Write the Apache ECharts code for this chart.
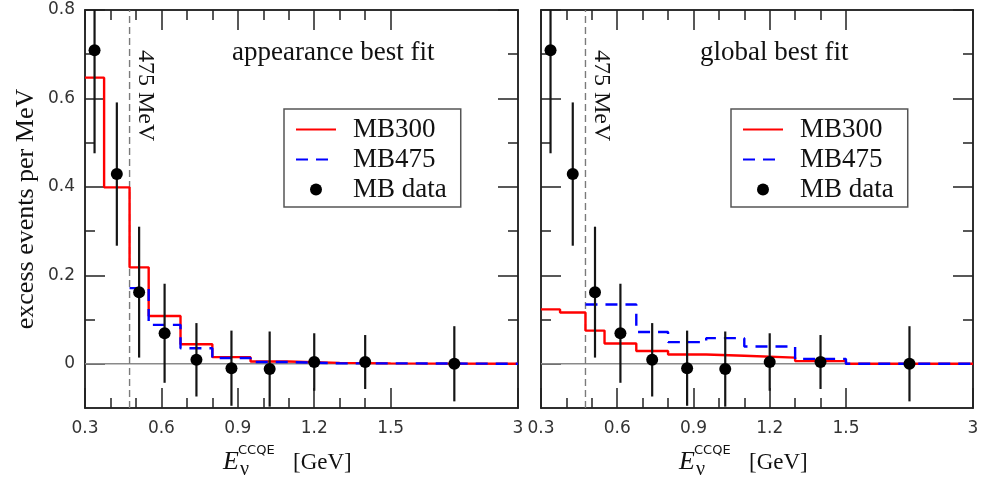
<!DOCTYPE html>
<html>
<head>
<meta charset="utf-8">
<script src="https://cdn.jsdelivr.net/npm/echarts@6/dist/echarts.min.js"></script>
<style>
  html, body { margin: 0; padding: 0; background: #fff; }
  #chart { width: 984px; height: 483px; }
</style>
</head>
<body>
<div id="chart"></div>
<script>
// Energy bins of the reconstructed neutrino energy (GeV)
const binEdges = [0.3, 0.375, 0.475, 0.55, 0.675, 0.8, 0.95, 1.1, 1.3, 1.5, 3.0];

// MiniBooNE excess: bin centres (GeV), values and errors (events per MeV)
const dataE = [0.3375, 0.425, 0.5125, 0.6125, 0.7375, 0.875, 1.025, 1.2, 1.4, 2.25];
const dataExcess = [0.709, 0.429, 0.162, 0.069, 0.009, -0.010, -0.012, 0.004, 0.004, 0.000];
const dataError = [0.233, 0.162, 0.148, 0.112, 0.083, 0.085, 0.085, 0.065, 0.061, 0.085];

// Predicted excess per bin, appearance best fit
const appMB300 = [0.647, 0.399, 0.218, 0.108, 0.044, 0.015, 0.005, 0.002, 0.001, 0.0];
const appMB475 = [null, null, 0.171, 0.088, 0.035, 0.013, 0.004, 0.001, 0.001, 0.0];

// Predicted excess per bin, global best fit
const globMB300 = [0.123, 0.116, 0.075, 0.046, 0.029, 0.021, 0.018, 0.014, 0.006, 0.0];
const globMB475 = [null, null, 0.134, 0.134, 0.072, 0.049, 0.058, 0.039, 0.011, 0.0];

const panelTitles = ['appearance best fit', 'global best fit'];
const seriesNames = ['MB300', 'MB475', 'MB data'];
const thresholdE = 0.475;
const thresholdLabel = '475 MeV';

// Tick positions
const majorTicksE = [0.3, 0.6, 0.9, 1.2, 1.5, 3.0];
const minorTicksE = [0.4, 0.5, 0.7, 0.8, 1.0, 1.1, 1.3, 1.4];
const majorTicksY = [0, 0.2, 0.4, 0.6, 0.8];
const minorTicksY = [0.1, 0.3, 0.5, 0.7];
const yMin = -0.1, yMax = 0.8;

// The energy axis is linear up to 1.5 GeV and compressed threefold above it
const BREAK_E = 1.5, SQUEEZE = 3;
const toAxis = e => (e <= BREAK_E ? e : BREAK_E + (e - BREAK_E) / SQUEEZE);
const fromAxis = v => (v <= BREAK_E ? v : BREAK_E + (v - BREAK_E) * SQUEEZE);
const xMin = toAxis(binEdges[0]), xMax = toAxis(binEdges[binEdges.length - 1]);

// Step outline of a binned prediction (null bins are not drawn)
function stepData(values) {
  const pts = [];
  let last = -1;
  values.forEach((v, i) => {
    if (v === null) return;
    pts.push([toAxis(binEdges[i]), v]);
    last = i;
  });
  pts.push([toAxis(binEdges[last + 1]), values[last]]);
  return pts;
}

const SERIF = '"Liberation Serif", "Times New Roman", serif';
const SANS = '"DejaVu Sans", sans-serif';
const INK = '#111';
const FRAME = '#222';

const grids = [
  { left: 85, top: 10, width: 433, height: 398 },
  { left: 541, top: 10, width: 432, height: 398 }
];

function tickAxis(kind, g, position, values, length, labels) {
  const isX = kind === 'x';
  const ax = {
    gridIndex: g,
    type: 'value',
    position: position,
    min: isX ? xMin : yMin,
    max: isX ? xMax : yMax,
    splitLine: { show: false },
    axisLine: { show: true, onZero: false, lineStyle: { color: FRAME, width: 1.5 } },
    axisTick: {
      show: true, inside: true, length: length,
      customValues: values,
      lineStyle: { color: FRAME, width: 1.5 }
    },
    axisLabel: { show: false }
  };
  if (labels) {
    ax.axisLabel = {
      show: true,
      customValues: values,
      margin: isX ? 12 : 10,
      fontFamily: SANS,
      fontSize: 17,
      color: '#333',
      formatter: isX
        ? v => { const e = Math.round(fromAxis(v) * 100) / 100; return e === 3 ? '3' : e.toFixed(1); }
        : v => (Math.abs(v) < 1e-9 ? '0' : v.toFixed(1))
    };
  }
  return ax;
}

const xAxes = [], yAxes = [];
grids.forEach((gr, g) => {
  xAxes.push(
    tickAxis('x', g, 'bottom', majorTicksE.map(toAxis), 20, true),
    tickAxis('x', g, 'bottom', minorTicksE.map(toAxis), 10, false),
    tickAxis('x', g, 'top', majorTicksE.map(toAxis), 20, false),
    tickAxis('x', g, 'top', minorTicksE.map(toAxis), 10, false)
  );
  yAxes.push(
    tickAxis('y', g, 'left', majorTicksY, 20, g === 0),
    tickAxis('y', g, 'left', minorTicksY, 10, false),
    tickAxis('y', g, 'right', majorTicksY, 20, false),
    tickAxis('y', g, 'right', minorTicksY, 10, false)
  );
});

const predictions = [
  [appMB300, appMB475],
  [globMB300, globMB475]
];

const series = [];
grids.forEach((gr, g) => {
  const ax = { xAxisIndex: 4 * g, yAxisIndex: 4 * g };
  series.push(
    Object.assign({
      name: 'zero', type: 'line', silent: true, symbol: 'none', z: 1,
      data: [[xMin, 0], [xMax, 0]],
      lineStyle: { color: '#8a8a8a', width: 1.6 }
    }, ax),
    Object.assign({
      name: 'threshold', type: 'line', silent: true, symbol: 'none', z: 1,
      data: [[toAxis(thresholdE), yMin], [toAxis(thresholdE), yMax]],
      lineStyle: { color: '#7a7a7a', width: 1.4, type: [7, 4] }
    }, ax),
    Object.assign({
      name: seriesNames[0], type: 'line', step: 'end', symbol: 'none', z: 3,
      data: stepData(predictions[g][0]),
      itemStyle: { color: '#ff0000' },
      lineStyle: { color: '#ff0000', width: 2.4 }
    }, ax),
    Object.assign({
      name: seriesNames[1], type: 'line', step: 'end', symbol: 'none', z: 4,
      data: stepData(predictions[g][1]),
      itemStyle: { color: '#0000ff' },
      lineStyle: { color: '#0000ff', width: 2.4, type: [12, 8] }
    }, ax),
    Object.assign({
      name: 'errors', type: 'custom', z: 5, silent: true,
      data: dataE.map((e, i) => [toAxis(e), dataExcess[i], dataError[i]]),
      encode: { x: 0, y: 1 },
      renderItem: (params, api) => {
        const x = api.value(0), y = api.value(1), err = api.value(2);
        const lo = api.coord([x, Math.max(y - err, yMin)]);
        const hi = api.coord([x, Math.min(y + err, yMax)]);
        return {
          type: 'line',
          shape: { x1: lo[0], y1: lo[1], x2: hi[0], y2: hi[1] },
          style: { stroke: '#151515', lineWidth: 2.2 }
        };
      }
    }, ax),
    Object.assign({
      name: seriesNames[2], type: 'scatter', z: 6, symbol: 'circle', symbolSize: 12,
      data: dataE.map((e, i) => [toAxis(e), dataExcess[i]]),
      itemStyle: { color: '#000', opacity: 1 }
    }, ax)
  );
});

const legendLefts = [284, 731];
const legends = legendLefts.map(left => ({
  left: left, top: 109, orient: 'vertical',
  selectedMode: false,
  data: [
    { name: seriesNames[0], itemStyle: { opacity: 0 } },
    { name: seriesNames[1], itemStyle: { opacity: 0 } },
    { name: seriesNames[2], icon: 'circle', itemStyle: { color: '#000', opacity: 1 } }
  ],
  backgroundColor: '#fff',
  borderColor: '#555', borderWidth: 1.5, borderRadius: 0,
  padding: [7, 14, 4, 11],
  itemWidth: 40, itemHeight: 12, itemGap: 3,
  textStyle: { fontFamily: SERIF, fontSize: 27, color: INK, lineHeight: 26, padding: [0, 0, 0, 12] }
}));

const titleX = [232, 700];
const graphics = [];
grids.forEach((gr, g) => {
  graphics.push({
    type: 'text', x: titleX[g], y: 53,
    style: { text: panelTitles[g], font: '27px ' + SERIF, fill: INK, align: 'left', verticalAlign: 'middle' }
  });
  const L = gr.left;
  graphics.push(
    { type: 'text', x: L + 138, y: 462,
      style: { text: 'E', font: 'italic 26px ' + SERIF, fill: INK, align: 'left', verticalAlign: 'middle' } },
    { type: 'text', x: L + 153, y: 444,
      style: { text: 'CCQE', font: '13px ' + SANS, fill: INK, align: 'left', verticalAlign: 'top' } },
    { type: 'text', x: L + 155, y: 470,
      style: { text: 'ν', font: '20px ' + SERIF, fill: INK, align: 'left', verticalAlign: 'middle' } },
    { type: 'text', x: L + 208, y: 463,
      style: { text: '[GeV]', font: '23px ' + SERIF, fill: INK, align: 'left', verticalAlign: 'middle' } }
  );
});
graphics.push({
  type: 'text', x: 26, y: grids[0].top + grids[0].height / 2, rotation: Math.PI / 2,
  style: { text: 'excess events per MeV', font: '26px ' + SERIF, fill: INK, align: 'center', verticalAlign: 'middle' }
});

const chart = echarts.init(document.getElementById('chart'), null, { renderer: 'canvas' });
chart.setOption({
  animation: false,
  backgroundColor: '#fff',
  grid: grids,
  xAxis: xAxes,
  yAxis: yAxes,
  legend: legends,
  series: series,
  graphic: graphics
});

// Threshold labels, placed next to the dashed line through the axis scale
const labelGraphics = grids.map((gr, g) => {
  const p = chart.convertToPixel({ xAxisIndex: 4 * g, yAxisIndex: 4 * g }, [toAxis(thresholdE), yMax]);
  return {
    type: 'text', x: p[0] + 4, y: p[1] + 40, rotation: -Math.PI / 2,
    style: { text: thresholdLabel, font: '24px ' + SERIF, fill: INK, align: 'left', verticalAlign: 'bottom' }
  };
});
chart.setOption({ graphic: graphics.concat(labelGraphics) });
</script>
</body>
</html>
